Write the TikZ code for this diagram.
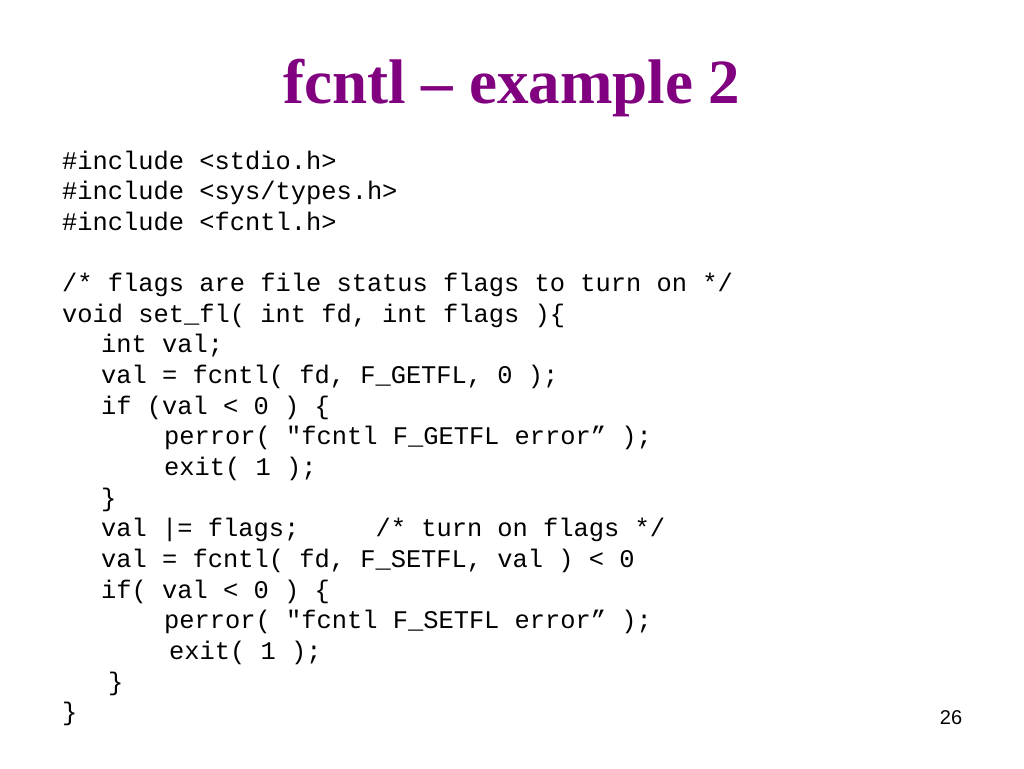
\documentclass[tikz,border=0pt]{standalone}
\usepackage{fontspec}
\setmainfont{Liberation Serif}
\setsansfont{Liberation Sans}
\setmonofont{Liberation Mono}
\definecolor{slidepurple}{RGB}{128,0,128}
\tikzset{
    title/.style={anchor=base,inner sep=0pt,text=slidepurple,font=\fontsize{63}{63}\selectfont\bfseries},
    code/.style={anchor=base west,inner sep=0pt,font=\fontsize{25.4}{25.4}\selectfont\ttfamily},
    pagenum/.style={anchor=base,inner sep=0pt,font=\fontsize{20}{20}\selectfont\sffamily},
}
\begin{document}
\begin{tikzpicture}[x=1pt,y=-1pt]
\def\h{30.65}
\def\a{62}
\def\b{101}
\def\c{164}
\useasboundingbox[fill=white] (0,0) rectangle (1024,768);
\node[title] (title) at (512,103) {fcntl – example 2};
\node[code] (inc1) at (\a,{169+0*\h}) {\#include <stdio.h>};
\node[code] (inc2) at (\a,{169+1*\h}) {\#include <sys/types.h>};
\node[code] (inc3) at (\a,{169+2*\h}) {\#include <fcntl.h>};
\node[code] (cmt)  at (\a,{169+4*\h}) {/* flags are file status flags to turn on */};
\node[code] (fn)   at (\a,{169+5*\h}) {void set\_fl( int fd, int flags )\{};
\node[code] (decl) at (\b,{169+6*\h}) {int val;};
\node[code] (get)  at (\b,{169+7*\h}) {val = fcntl( fd, F\_GETFL, 0 );};
\node[code] (if1)  at (\b,{169+8*\h}) {if (val < 0 ) \{};
\node[code] (err1) at (\c,{169+9*\h}) {perror( "fcntl F\_GETFL error” );};
\node[code] (ex1)  at (\c,{169+10*\h}) {exit( 1 );};
\node[code] (br1)  at (\b,{169+11*\h}) {\}};
\node[code] (or)   at (\b,{169+12*\h}) {val |= flags;~~~~~/* turn on flags */};
\node[code] (set)  at (\b,{169+13*\h}) {val = fcntl( fd, F\_SETFL, val ) < 0};
\node[code] (if2)  at (\b,{169+14*\h}) {if( val < 0 ) \{};
\node[code] (err2) at (\c,{169+15*\h}) {perror( "fcntl F\_SETFL error” );};
\node[code] (ex2)  at (169,{169+16*\h}) {exit( 1 );};
\node[code] (br2)  at (108,{169+17*\h}) {\}};
\node[code] (br3)  at (\a,{169+18*\h}) {\}};
\node[pagenum] (num) at (951,724) {26};
\end{tikzpicture}
\end{document}
